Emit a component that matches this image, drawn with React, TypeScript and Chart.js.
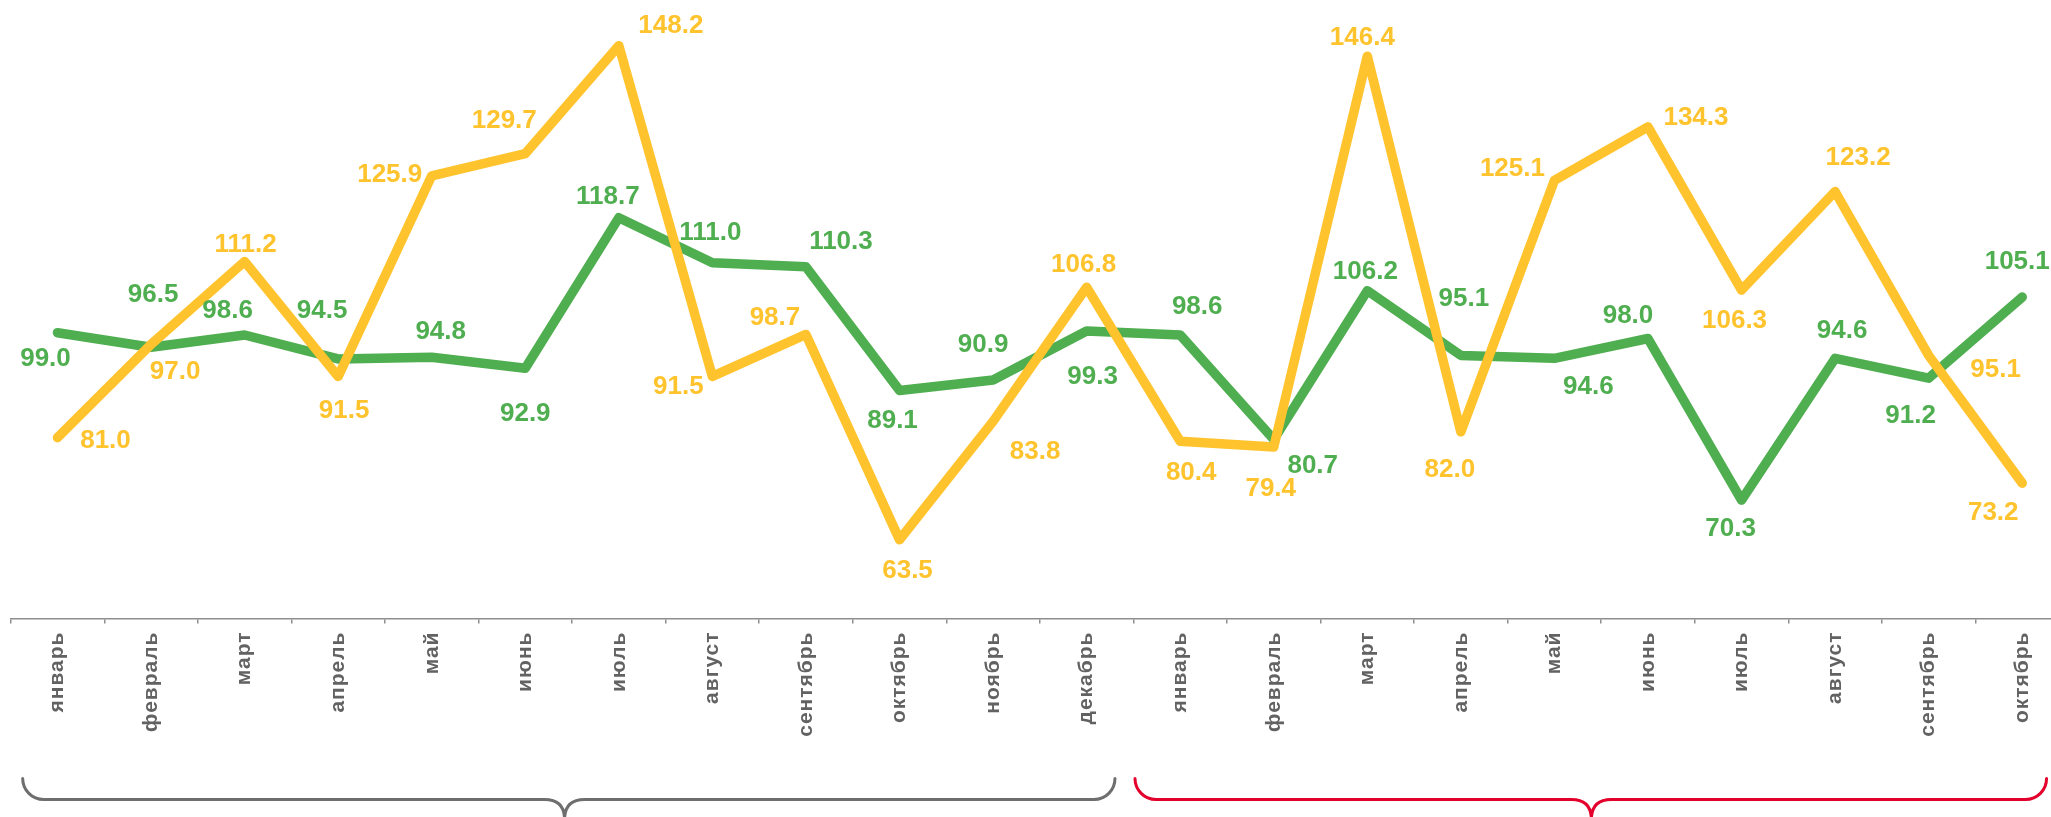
import React, { useEffect, useRef } from 'react';
import { Chart, registerables } from 'chart.js';

Chart.register(...registerables);

const monthNames = ['январь', 'февраль', 'март', 'апрель', 'май', 'июнь', 'июль', 'август', 'сентябрь', 'октябрь', 'ноябрь', 'декабрь'];
const categories = [...monthNames, ...monthNames.slice(0, 10)];

const greenValues = [99.0, 96.5, 98.6, 94.5, 94.8, 92.9, 118.7, 111.0, 110.3, 89.1, 90.9, 99.3, 98.6, 80.7, 106.2, 95.1, 94.6, 98.0, 70.3, 94.6, 91.2, 105.1];
const yellowValues = [81.0, 97.0, 111.2, 91.5, 125.9, 129.7, 148.2, 91.5, 98.7, 63.5, 83.8, 106.8, 80.4, 79.4, 146.4, 82.0, 125.1, 134.3, 106.3, 123.2, 95.1, 73.2];

// label centre offsets relative to each point (style, not data)
const greenLabelOffsets = [[-12, 24], [2, -55], [-17, -26], [-16, -50], [9, -27], [0, 43], [-11, -23], [-2, -32], [35, -27], [-7, 28], [-10, -37], [6, 44], [17, -30], [39, 24], [-2, -21], [3, -59], [34, 26], [-20, -25], [-11, 27], [7, -30], [-18, 36], [-5, -37]];
const yellowLabelOffsets = [[48, 1], [24, 25], [1, -19], [6, 32], [-42, -3], [-21, -35], [52, -22], [-34, 8], [-31, -19], [8, 29], [42, 28], [-3, -24], [11, 30], [-3, 40], [-5, -20], [-11, 36], [-42, -14], [48, -11], [-7, 29], [23, -36], [67, 12], [-29, 28]];

const GREEN = '#4FAE4F';
const YELLOW = '#FFC32D';

const braceSpecs = [
  { from: -0.372, mid: 5.42, to: 11.303, color: '#6E6E6E' },
  { from: 11.517, mid: 16.395, to: 21.26, color: '#E3002C' },
];

const tickSpacingPlugin = {
  id: 'tickSpacing',
  beforeDraw(chart: any) {
    chart.ctx.letterSpacing = '1px';
  },
  beforeDatasetsDraw(chart: any) {
    chart.ctx.letterSpacing = '0px';
  },
};

const valueLabelsPlugin = {
  id: 'valueLabels',
  afterDatasetsDraw(chart: any) {
    const ctx = chart.ctx;
    ctx.save();
    ctx.letterSpacing = '0px';
    ctx.font = 'bold 26px "Liberation Sans", Arial, sans-serif';
    ctx.textAlign = 'center';
    ctx.textBaseline = 'alphabetic';
    chart.data.datasets.forEach((ds: any, di: number) => {
      const meta = chart.getDatasetMeta(di);
      const offs = ds.labelOffsets as number[][];
      meta.data.forEach((pt: any, i: number) => {
        const [dx, dy] = offs[i];
        ctx.fillStyle = ds.borderColor;
        ctx.fillText(Number(ds.data[i]).toFixed(1), pt.x + dx, pt.y + dy + 9.3);
      });
    });
    ctx.restore();
  },
};

const bracesPlugin = {
  id: 'braces',
  afterDraw(chart: any) {
    const ctx = chart.ctx;
    const xs = chart.scales.x;
    const bottom = chart.chartArea.bottom;
    const yLine = bottom + 181;
    const r = 21;
    const c = 20;
    ctx.save();
    ctx.lineWidth = 3;
    ctx.lineCap = 'round';
    braceSpecs.forEach((b) => {
      const x0 = xs.getPixelForValue(b.from);
      const x1 = xs.getPixelForValue(b.to);
      const cx = xs.getPixelForValue(b.mid);
      ctx.strokeStyle = b.color;
      ctx.beginPath();
      ctx.moveTo(x0, yLine - r);
      ctx.arcTo(x0, yLine, x0 + r, yLine, r);
      ctx.lineTo(cx - c, yLine);
      ctx.quadraticCurveTo(cx, yLine, cx, yLine + c);
      ctx.quadraticCurveTo(cx, yLine, cx + c, yLine);
      ctx.lineTo(x1 - r, yLine);
      ctx.arcTo(x1, yLine, x1, yLine - r, r);
      ctx.stroke();
    });
    ctx.restore();
  },
};

export default function App() {
  const ref = useRef<HTMLCanvasElement>(null);
  useEffect(() => {
    const chart = new Chart(ref.current as HTMLCanvasElement, {
      type: 'line',
      data: {
        labels: categories,
        datasets: [
          {
            label: 'yellow',
            data: yellowValues,
            borderColor: YELLOW,
            backgroundColor: YELLOW,
            borderWidth: 9.5,
            borderCapStyle: 'round',
            borderJoinStyle: 'round',
            pointRadius: 0,
            tension: 0,
            labelOffsets: yellowLabelOffsets,
          } as any,
          {
            label: 'green',
            data: greenValues,
            borderColor: GREEN,
            backgroundColor: GREEN,
            borderWidth: 9.5,
            borderCapStyle: 'round',
            borderJoinStyle: 'round',
            pointRadius: 0,
            tension: 0,
            labelOffsets: greenLabelOffsets,
          } as any,
        ],
      },
      options: {
        responsive: false,
        animation: false,
        devicePixelRatio: 1,
        layout: { padding: { left: 10.7, right: 3, top: 35.2, bottom: 0 } },
        plugins: { legend: { display: false }, tooltip: { enabled: false } },
        scales: {
          y: { display: false, min: 50, max: 150 },
          x: {
            type: 'category',
            offset: true,
            grid: {
              display: true,
              drawOnChartArea: false,
              drawTicks: true,
              tickLength: 5,
              color: '#8E8E8E',
              lineWidth: 1.5,
              offset: true,
            },
            border: { display: true, color: '#8E8E8E', width: 1.5 },
            ticks: {
              autoSkip: false,
              maxRotation: 90,
              minRotation: 90,
              padding: 8,
              color: '#626262',
              font: { family: '"Liberation Sans", Arial, sans-serif', size: 21, weight: 'bold' },
            },
            afterFit: (s: any) => {
              s.height = 817 - 618.5;
            },
          },
        },
      } as any,
      plugins: [tickSpacingPlugin, valueLabelsPlugin, bracesPlugin],
    });
    return () => chart.destroy();
  }, []);
  return (
    <div style={{ position: 'fixed', left: 0, top: 0, width: 2051, height: 817, overflow: 'hidden', background: '#fff' }}>
      <canvas ref={ref} width={2072} height={817} style={{ display: 'block' }} />
    </div>
  );
}
